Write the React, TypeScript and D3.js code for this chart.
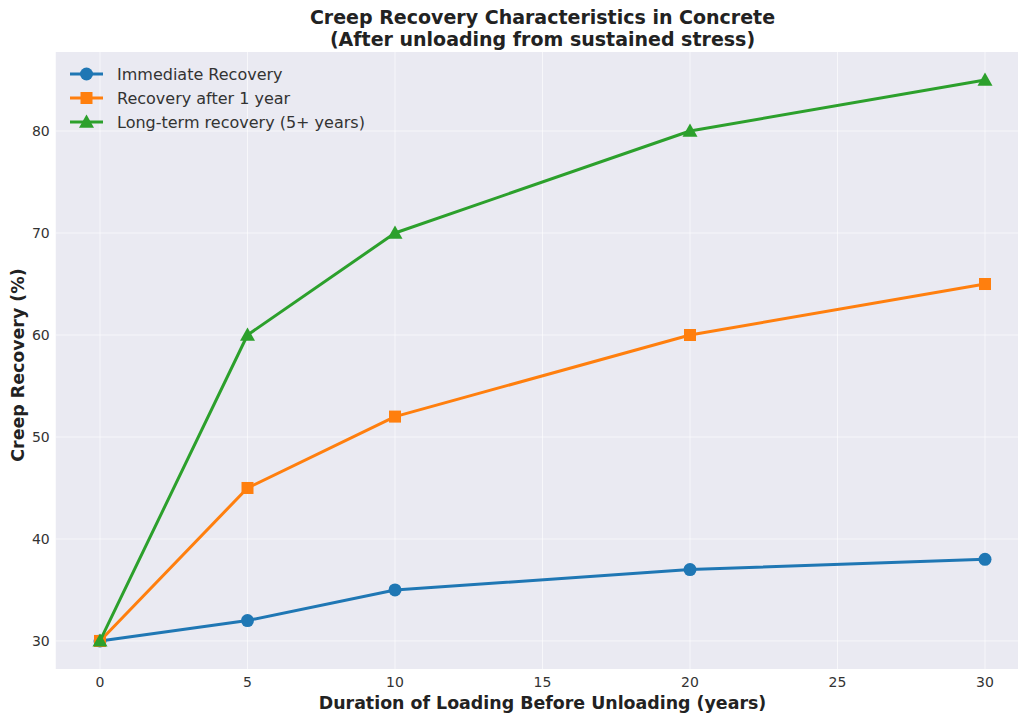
import React from "react";
import * as d3 from "d3";

const years = [0, 5, 10, 20, 30];
const immediate = [30, 32, 35, 37, 38];
const afterOneYear = [30, 45, 52, 60, 65];
const longTerm = [30, 60, 70, 80, 85];
const xTicks = [0, 5, 10, 15, 20, 25, 30];
const yTicks = [30, 40, 50, 60, 70, 80];
const seriesNames = ["Immediate Recovery", "Recovery after 1 year", "Long-term recovery (5+ years)"];
const seriesColors = ["#1f77b4", "#ff7f0e", "#2ca02c"];
const seriesMarkers = ["circle", "square", "triangle"];

const W = 1018, H = 715;
const FONT = "'DejaVu Sans', sans-serif";

function Marker({ kind, x, y, color }: { kind: string; x: number; y: number; color: string }) {
  if (kind === "circle") return <circle cx={x} cy={y} r={6.5} fill={color} />;
  if (kind === "square") return <rect x={x - 6} y={y - 6} width={12} height={12} fill={color} />;
  const s = 7.5;
  return <path d={`M${x},${y - s} L${x + s},${y + s * 0.75} L${x - s},${y + s * 0.75} Z`} fill={color} />;
}

export default function App() {
  const x = d3.scaleLinear().domain([-1.5, 31.5]).range([55.75, 1029.25]);
  const y = d3.scaleLinear().domain([27.25, 87.75]).range([669, 52]);
  const data = [immediate, afterOneYear, longTerm];
  const line = d3.line<[number, number]>().x((d) => x(d[0])).y((d) => y(d[1]));
  const [x0, x1] = x.range();
  const [y0, y1] = y.range();
  return (
    <svg width={W} height={H} style={{ position: "absolute", left: 0, top: 0, background: "#fff" }} fontFamily={FONT}>
      <rect x={x0} y={y1} width={x1 - x0} height={y0 - y1} fill="#eaeaf2" />
      {xTicks.map((t) => (
        <line key={"gx" + t} x1={x(t)} x2={x(t)} y1={y1} y2={y0} stroke="#fff" strokeOpacity={0.6} strokeWidth={1} />
      ))}
      {yTicks.map((t) => (
        <line key={"gy" + t} x1={x0} x2={x1} y1={y(t)} y2={y(t)} stroke="#fff" strokeOpacity={0.6} strokeWidth={1} />
      ))}
      {xTicks.map((t) => (
        <text key={"tx" + t} x={x(t)} y={y0 + 18} textAnchor="middle" fontSize={14} fill="#333">{t}</text>
      ))}
      {yTicks.map((t) => (
        <text key={"ty" + t} x={x0 - 6} y={y(t) + 5} textAnchor="end" fontSize={14} fill="#333">{t}</text>
      ))}
      {data.map((vals, i) => {
        const pts = years.map((yr, j) => [yr, vals[j]] as [number, number]);
        return (
          <g key={"s" + i}>
            <path d={line(pts) || ""} fill="none" stroke={seriesColors[i]} strokeWidth={3} strokeLinejoin="round" strokeLinecap="round" />
            {pts.map((p, j) => (
              <Marker key={j} kind={seriesMarkers[i]} x={x(p[0])} y={y(p[1])} color={seriesColors[i]} />
            ))}
          </g>
        );
      })}
      <text x={542.5} y={24} textAnchor="middle" fontSize={19} fontWeight="bold" fill="#222">Creep Recovery Characteristics in Concrete</text>
      <text x={542.5} y={46} textAnchor="middle" fontSize={19} fontWeight="bold" fill="#222">(After unloading from sustained stress)</text>
      <text x={542.5} y={709} textAnchor="middle" fontSize={17.4} fontWeight="bold" fill="#222">Duration of Loading Before Unloading (years)</text>
      <text transform={`translate(24,365) rotate(-90)`} textAnchor="middle" fontSize={17.4} fontWeight="bold" fill="#222">Creep Recovery (%)</text>
      {seriesNames.map((name, i) => {
        const ly = 74 + i * 24;
        return (
          <g key={"l" + i}>
            <line x1={70} x2={103} y1={ly} y2={ly} stroke={seriesColors[i]} strokeWidth={3} />
            <Marker kind={seriesMarkers[i]} x={86.5} y={ly} color={seriesColors[i]} />
            <text x={117} y={ly + 5.5} fontSize={16} fill="#333">{name}</text>
          </g>
        );
      })}
    </svg>
  );
}
